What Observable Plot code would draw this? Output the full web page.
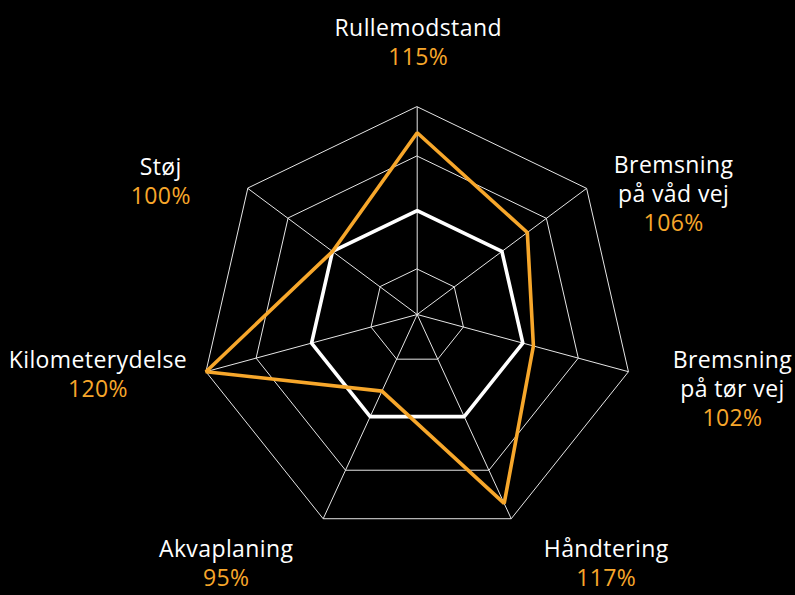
<!DOCTYPE html>
<html><head><meta charset="utf-8">
<script src="https://cdn.jsdelivr.net/npm/d3@7"></script>
<script src="https://cdn.jsdelivr.net/npm/@observablehq/plot@0.6"></script>
<style>
html,body{margin:0;padding:0;background:#000;}
#chart{width:795px;height:595px;overflow:hidden;}
#chart svg text{letter-spacing:0.4px;}
</style></head><body><div id="chart"></div>
<script>
// ---- data ----
const axes = ["Rullemodstand", "Bremsning\npå våd vej", "Bremsning\npå tør vej", "Håndtering", "Akvaplaning", "Kilometerydelse", "Støj"];
const values = [115, 106, 102, 117, 95, 120, 100];
const reference = [100, 100, 100, 100, 100, 100, 100];
const valueLabels = ["115%", "106%", "102%", "117%", "95%", "120%", "100%"];
const gridLevels = [88.75, 100, 110.5, 120];
const radialDomain = [80, 120];

// ---- layout ----
const ySkew = 0.0415;
const labelDx = [1, 87, 104, 95, -97, -108, -87];
const labelDy = [-71, 14, 25.5, 38, 38, -4, -13];
const orange = "#f7a72b";

const n = axes.length;
const rho = d3.scaleLinear().domain(radialDomain).range([0, 1]);
function proj(i, v) {
  const a = 2 * Math.PI * i / n;
  const r = rho(v);
  return [r * Math.sin(a), r * (ySkew - Math.cos(a))];
}
const idx = axes.map((_, i) => i);
const grid = gridLevels.flatMap(level => idx.map(i => ({level, p: proj(i, level)})));
const refPts = idx.map(i => ({p: proj(i, reference[i])}));
const valPts = idx.map(i => ({p: proj(i, values[i])}));
const outer = radialDomain[1];

const textMarks = idx.flatMap(i => [
  Plot.text([i], {x: d => proj(d, outer)[0], y: d => proj(d, outer)[1], text: d => axes[d],
    dx: labelDx[i], dy: labelDy[i], fill: "#fff", lineAnchor: "bottom", lineHeight: 1.26,
    fontSize: 23, fontFamily: "'Open Sans', sans-serif", textAnchor: "middle"}),
  Plot.text([i], {x: d => proj(d, outer)[0], y: d => proj(d, outer)[1], text: d => valueLabels[d],
    dx: labelDx[i], dy: labelDy[i] + 29, fill: orange, lineAnchor: "bottom",
    fontSize: 23, fontFamily: "'Open Sans', sans-serif", textAnchor: "middle"})
]);

const chart = Plot.plot({
  width: 795, height: 595, margin: 0,
  style: {background: "#000", color: "#fff"},
  x: {domain: [-1, 1], range: [416.7 - 216.7, 416.7 + 216.7], axis: null},
  y: {domain: [-1, 1], range: [314 - 216.7, 314 + 216.7], axis: null},
  marks: [
    Plot.link(idx, {x1: d => proj(d, radialDomain[0])[0], y1: d => proj(d, radialDomain[0])[1],
      x2: d => proj(d, outer)[0], y2: d => proj(d, outer)[1], stroke: "#e6e6e6", strokeWidth: 1}),
    Plot.line(grid, {x: d => d.p[0], y: d => d.p[1], z: "level", curve: "linear-closed",
      stroke: "#e6e6e6", strokeWidth: 1}),
    Plot.line(refPts, {x: d => d.p[0], y: d => d.p[1], curve: "linear-closed",
      stroke: "#fff", strokeWidth: 3.6, strokeLinejoin: "miter"}),
    Plot.line(valPts, {x: d => d.p[0], y: d => d.p[1], curve: "linear-closed",
      stroke: orange, strokeWidth: 3.6, strokeLinejoin: "miter"}),
    ...textMarks
  ]
});
document.getElementById("chart").appendChild(chart);
</script></body></html>
